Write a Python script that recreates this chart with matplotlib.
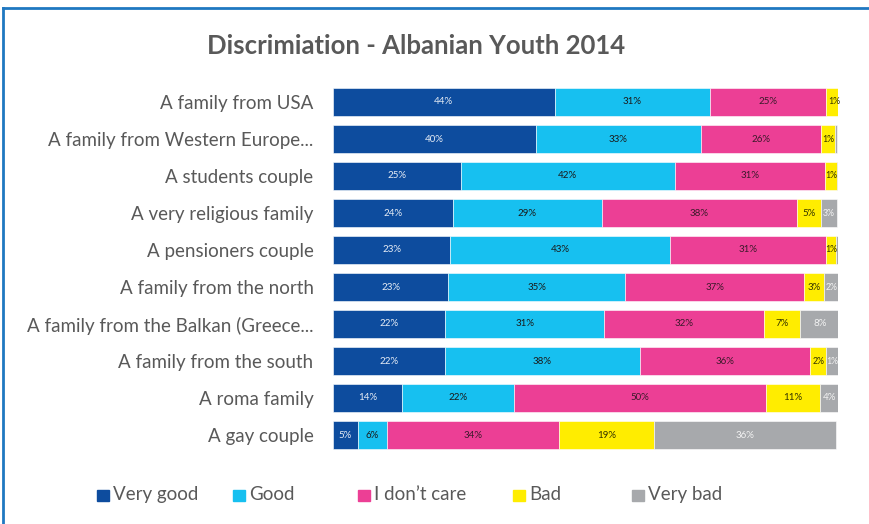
import matplotlib.pyplot as plt
from matplotlib.patches import Rectangle
import numpy as np

plt.rcParams['font.family'] = ['Lato', 'DejaVu Sans']

# Data
groups = [
    "A family from USA",
    "A family from Western Europe...",
    "A students couple",
    "A very religious family",
    "A pensioners couple",
    "A family from the north",
    "A family from the Balkan (Greece...",
    "A family from the south",
    "A roma family",
    "A gay couple",
]
answers = ["Very good", "Good", "I don\u2019t care", "Bad", "Very bad"]

# bar lengths as drawn (percent of the full bar)
very_good = [43.9, 40.1, 25.3, 23.7, 23.2, 22.8, 22.2, 22.1, 13.7, 4.9]
good = [30.8, 32.7, 42.4, 29.6, 43.6, 35.1, 31.5, 38.6, 22.1, 5.8]
dont_care = [23.0, 23.9, 29.8, 38.5, 30.8, 35.3, 31.7, 33.8, 50.0, 34.1]
bad = [3.0, 2.8, 2.4, 4.8, 2.1, 4.1, 7.1, 3.2, 10.6, 18.7]
very_bad = [0.0, 0.3, 0.5, 3.2, 0.4, 2.9, 7.8, 2.4, 3.7, 36.2]

# data labels as printed on the bars
lbl_very_good = [44, 40, 25, 24, 23, 23, 22, 22, 14, 5]
lbl_good = [31, 33, 42, 29, 43, 35, 31, 38, 22, 6]
lbl_dont_care = [25, 26, 31, 38, 31, 37, 32, 36, 50, 34]
lbl_bad = [1, 1, 1, 5, 1, 3, 7, 2, 11, 19]
lbl_very_bad = [None, None, None, 3, None, 2, 8, 1, 4, 36]

colors = ["#0D4C9E", "#17C0F0", "#EC3F95", "#FFED00", "#A7A9AC"]
label_colors = ["#E6ECF5", "#1a1a1a", "#3a1a2a", "#333300", "#F2F2F2"]

fig = plt.figure(figsize=(8.7, 5.24), dpi=100)
ax = fig.add_axes([333 / 870, 1 - 453.5 / 524, (838 - 333) / 870, (453.5 - 83.5) / 524])

series = [very_good, good, dont_care, bad, very_bad]
labels = [lbl_very_good, lbl_good, lbl_dont_care, lbl_bad, lbl_very_bad]
y = np.arange(len(groups))
left = np.zeros(len(groups))
for vals, lbls, col, tcol in zip(series, labels, colors, label_colors):
    vals = np.array(vals)
    ax.barh(y, vals, left=left, height=0.78, color=col, edgecolor="white", linewidth=0.4)
    for yi, (l, v, t) in enumerate(zip(left, vals, lbls)):
        if t is not None:
            fs = 7 if v >= 3.5 else 6.3
            ax.text(l + v / 2, yi, f"{t}%", ha="center", va="center",
                    fontsize=fs, color=tcol)
    left += vals

ax.set_xlim(0, 100)
ax.set_ylim(len(groups) - 0.5, -0.5)
ax.set_yticks(y)
ax.set_yticklabels(groups, fontsize=13.5, color="#595959")
ax.tick_params(axis="y", length=0, pad=14)
ax.set_xticks([])
for s in ax.spines.values():
    s.set_visible(False)

fig.text(416 / 870, 1 - 46 / 524, "Discrimiation - Albanian Youth 2014", ha="center", va="center",
         fontsize=18.5, fontweight="bold", color="#595959")

# legend
leg_x = [97, 233, 358, 513, 632]
for x, name, col in zip(leg_x, answers, colors):
    fig.patches.append(Rectangle((x / 870, 1 - 501 / 524), 12 / 870, 11 / 524,
                                 transform=fig.transFigure, color=col))
    fig.text((x + 16) / 870, 1 - 494.5 / 524, name, ha="left", va="center",
             fontsize=13.5, color="#595959")

# outer frame lines (top and left)
fig.add_artist(plt.Line2D([3 / 870, 1], [1 - 7.5 / 524] * 2, transform=fig.transFigure,
                          color="#1F78C1", linewidth=2))
fig.add_artist(plt.Line2D([3.5 / 870] * 2, [0, 1 - 7.5 / 524], transform=fig.transFigure,
                          color="#1F78C1", linewidth=2))

fig.savefig("out.png", dpi=100)
